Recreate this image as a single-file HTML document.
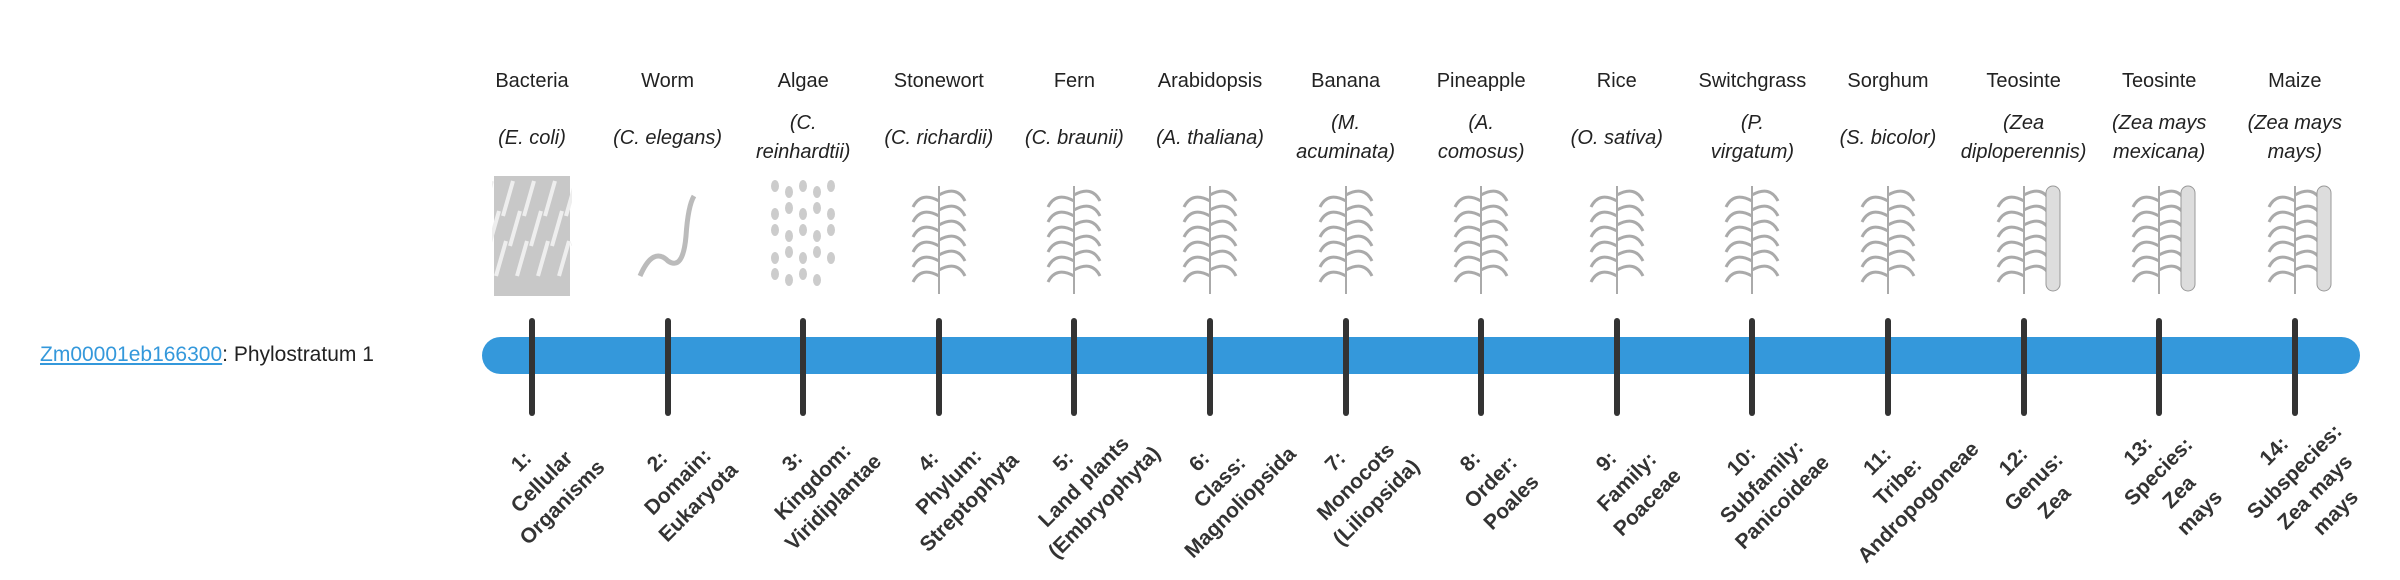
<!DOCTYPE html>
<html><head><meta charset="utf-8"><style>
body{margin:0;width:2400px;height:580px;background:#fff;position:relative;overflow:hidden;font-family:"Liberation Sans",sans-serif;color:#222}
.lbl{position:absolute;left:40px;top:340px;font-size:21px;line-height:30px}
.lbl a{color:#3498db;text-decoration:underline}
.bar{position:absolute;left:482px;top:337px;width:1878px;height:37px;background:#3498db;border-radius:19px}
.tick{position:absolute;top:318px;width:6px;height:98px;background:#333;border-radius:3px}
.col{position:absolute;width:136px;text-align:center;font-size:20px}
.name{position:absolute;top:66px;width:100%;line-height:30px}
.sp{position:absolute;top:103px;height:70px;width:100%;display:flex;align-items:center;justify-content:center;font-style:italic;line-height:29px}
.img{position:absolute;top:176px;left:28px;width:80px;height:120px}
.bl{position:absolute;top:482px;font-weight:bold;font-size:21px;line-height:29px;text-align:center;color:#333;white-space:nowrap;transform:translate(-50%,-50%) rotate(-45deg)}
</style></head><body>
<div class="lbl"><a>Zm00001eb166300</a>: Phylostratum 1</div>
<div class="bar"></div>
<div id="c"></div>
<script>
var names=["Bacteria","Worm","Algae","Stonewort","Fern","Arabidopsis","Banana","Pineapple","Rice","Switchgrass","Sorghum","Teosinte","Teosinte","Maize"];
var sp=["(E. coli)","(C. elegans)","(C.<br>reinhardtii)","(C. richardii)","(C. braunii)","(A. thaliana)","(M.<br>acuminata)","(A.<br>comosus)","(O. sativa)","(P.<br>virgatum)","(S. bicolor)","(Zea<br>diploperennis)","(Zea mays<br>mexicana)","(Zea mays<br>mays)"];
var bl=["1:<br>Cellular<br>Organisms","2:<br>Domain:<br>Eukaryota","3:<br>Kingdom:<br>Viridiplantae","4:<br>Phylum:<br>Streptophyta","5:<br>Land plants<br>(Embryophyta)","6:<br>Class:<br>Magnoliopsida","7:<br>Monocots<br>(Liliopsida)","8:<br>Order:<br>Poales","9:<br>Family:<br>Poaceae","10:<br>Subfamily:<br>Panicoideae","11:<br>Tribe:<br>Andropogoneae","12:<br>Genus:<br>Zea","13:<br>Species:<br>Zea<br>mays","14:<br>Subspecies:<br>Zea mays<br>mays"];
var h="";
for(var i=0;i<14;i++){
 var x=532+i*135.6;
 h+='<div class="tick" style="left:'+(x-3)+'px"></div>';
 var svg='<svg class="img" viewBox="0 0 80 120">';
 if(i==0){svg+='<rect x="2" y="0" width="76" height="120" fill="#c8c8c8"/>';for(var k=0;k<14;k++){svg+='<line x1="'+(k*7)+'" y1="'+(k%3*30+5)+'" x2="'+(k*7-10)+'" y2="'+(k%3*30+40)+'" stroke="#eee" stroke-width="4"/>';}}
 else if(i==1){svg+='<path d="M12 100 Q25 70 40 85 Q55 95 58 60 Q60 30 66 20" fill="none" stroke="#bbb" stroke-width="5"/>';}
 else if(i==2){for(var k=0;k<24;k++){svg+='<ellipse cx="'+(12+(k%5)*14)+'" cy="'+(10+Math.floor(k/5)*22+(k%2)*6)+'" rx="4" ry="6" fill="#ccc"/>';}}
 else{svg+='<line x1="40" y1="118" x2="40" y2="10" stroke="#aaa" stroke-width="2"/>';for(var k=0;k<6;k++){var y=100-k*15;svg+='<path d="M40 '+y+' Q22 '+(y-10)+' 14 '+(y+6)+'" fill="none" stroke="#aaa" stroke-width="3"/><path d="M40 '+(y-6)+' Q58 '+(y-16)+' 66 '+y+'" fill="none" stroke="#aaa" stroke-width="3"/>';}if(i>=11){svg+='<rect x="62" y="10" width="14" height="105" rx="7" fill="#ddd" stroke="#999"/>';}}
 svg+='</svg>';
 h+='<div class="col" style="left:'+(x-68)+'px;top:0"><div class="name">'+names[i]+'</div><div class="sp">'+sp[i]+'</div>'+svg+'</div>';
 h+='<div class="bl" style="left:'+(x+10)+'px">'+bl[i]+'</div>';
}
document.getElementById("c").innerHTML=h;
</script>
</body></html>
